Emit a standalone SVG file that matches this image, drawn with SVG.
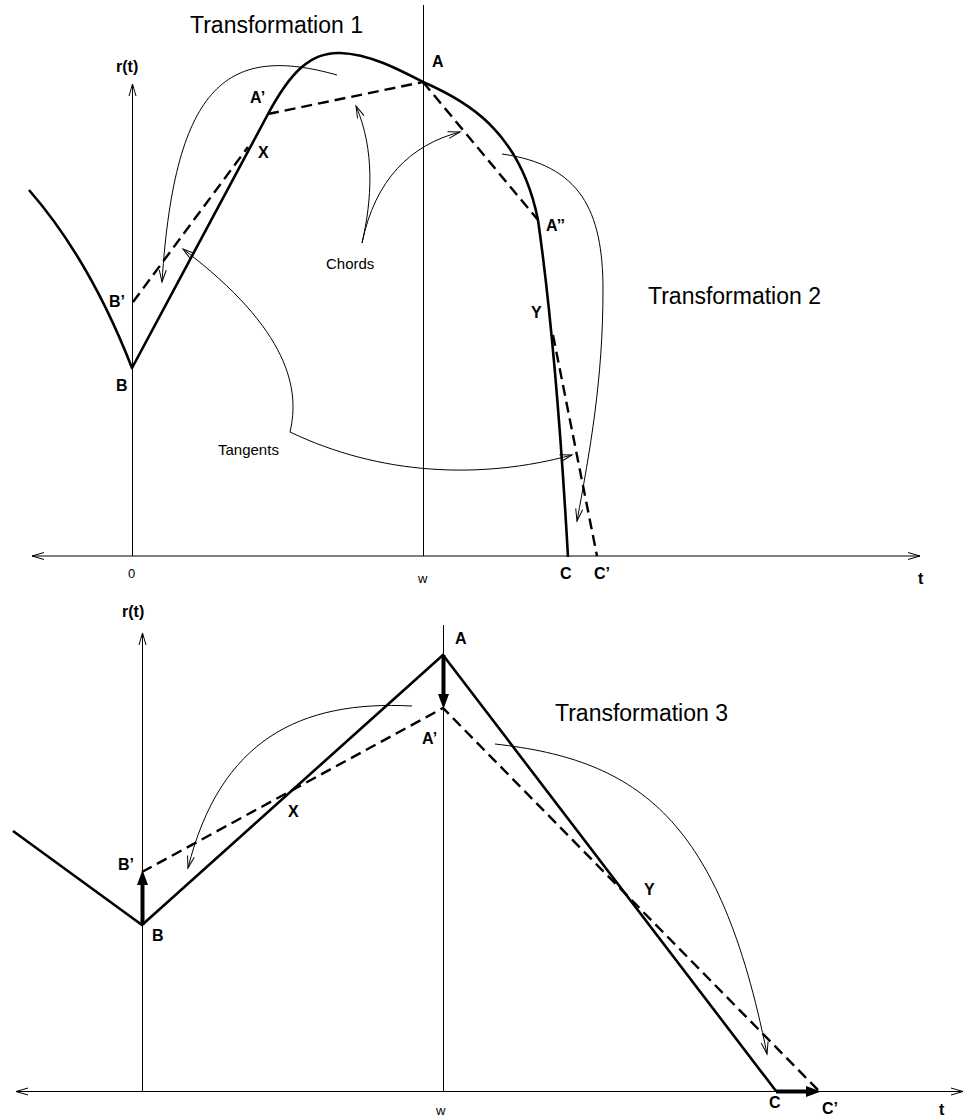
<svg xmlns="http://www.w3.org/2000/svg" width="964" height="1120" viewBox="0 0 964 1120">
<style>
.bg{fill:#fff}
.thin{fill:none;stroke:#000;stroke-width:1}
.thick{fill:none;stroke:#000;stroke-width:2.6;stroke-linejoin:round}
.dash{fill:none;stroke:#000;stroke-width:2.4;stroke-dasharray:11,6}
.vec{fill:none;stroke:#000;stroke-width:4}
.lbl{font-family:"Liberation Sans",Arial,sans-serif;font-weight:bold;font-size:16px;fill:#000}
.title{font-family:"Liberation Sans",Arial,sans-serif;font-size:23px;fill:#000}
.note{font-family:"Liberation Sans",Arial,sans-serif;font-size:15px;fill:#000}
.tick{font-family:"Liberation Sans",Arial,sans-serif;font-size:13px;fill:#000}
</style>
<defs>
<marker id="open" markerUnits="userSpaceOnUse" markerWidth="16" markerHeight="10" refX="12" refY="4" orient="auto-start-reverse" overflow="visible">
<path d="M0,0.5 L12,4 L0,7.5" fill="none" stroke="#000" stroke-width="1"/>
</marker>
<marker id="solid" markerUnits="userSpaceOnUse" markerWidth="16" markerHeight="11" refX="0" refY="5.5" orient="auto" overflow="visible">
<path d="M0,0 L15,5.5 L0,11 z" fill="#000"/>
</marker>
</defs>
<rect class="bg" x="0" y="0" width="964" height="1120"/>

<g id="axes-top">
<line class="thin" x1="32" y1="556" x2="920" y2="556" marker-start="url(#open)" marker-end="url(#open)"/>
<line class="thin" x1="132.5" y1="556" x2="132.5" y2="84" marker-end="url(#open)"/>
<line class="thin" x1="423.5" y1="5" x2="423.5" y2="556"/>
</g>

<g id="curve-top">
<path class="thick" d="M29,190 Q90,260 132,368 L268,114 C290,73 310,52 340,53 C370,54 400,70 423,82 C465,100 520,130 538,220 C548,290 558,380 568,557"/>
</g>

<g id="chords-top">
<path class="dash" d="M133,302 L248,147"/>
<path class="dash" d="M268,114 L423,82"/>
<path class="dash" d="M423,82 L538,220"/>
<path class="dash" d="M553,335 L597,556"/>
</g>

<g id="connectors">
<path class="thin" d="M337,75 C230,45 175,80 162,282" marker-end="url(#open)"/>
<path class="thin" d="M290,432 C300,390 290,330 183,249" marker-end="url(#open)"/>
<path class="thin" d="M290,432 C380,475 480,480 572,455" marker-end="url(#open)"/>
<path class="thin" d="M362,243 C372,200 375,150 356,106" marker-end="url(#open)"/>
<path class="thin" d="M362,243 C375,180 410,145 460,132" marker-end="url(#open)"/>
<path class="thin" d="M502,154 C580,165 603,210 603,290 C603,380 590,450 577,521" marker-end="url(#open)"/>
<path class="thin" d="M412,706 C300,700 220,740 188,868" marker-end="url(#open)"/>
<path class="thin" d="M495,744 C640,760 720,820 767,1054" marker-end="url(#open)"/>
</g>

<g id="labels-top">
<text class="title" x="190" y="33">Transformation 1</text>
<text class="title" x="648" y="304">Transformation 2</text>
<text class="lbl" x="116" y="72">r(t)</text>
<text class="lbl" x="432" y="67">A</text>
<text class="lbl" x="250" y="103">A’</text>
<text class="lbl" x="258" y="158">X</text>
<text class="lbl" x="109" y="307">B’</text>
<text class="lbl" x="116" y="391">B</text>
<text class="lbl" x="546" y="231">A’’</text>
<text class="lbl" x="531" y="318">Y</text>
<text class="lbl" x="560" y="579">C</text>
<text class="lbl" x="594" y="579">C’</text>
<text class="lbl" x="918" y="584">t</text>
<text class="tick" x="128" y="578">0</text>
<text class="tick" x="418" y="583">w</text>
<text class="note" x="326" y="269">Chords</text>
<text class="note" x="218" y="455">Tangents</text>
</g>

<g id="axes-bottom">
<line class="thin" x1="16" y1="1091.5" x2="963" y2="1091.5" marker-start="url(#open)" marker-end="url(#open)"/>
<line class="thin" x1="142.5" y1="1091" x2="142.5" y2="633" marker-end="url(#open)"/>
<line class="thin" x1="443.5" y1="625" x2="443.5" y2="1091"/>
</g>

<g id="curve-bottom">
<path class="thick" d="M13,831 L142,925 L443,655 L776,1091"/>
<path class="dash" d="M142,872 L443,708 L819,1091"/>
</g>

<g id="shifts-bottom">
<line class="vec" x1="142.5" y1="925" x2="142.5" y2="885" marker-end="url(#solid)"/>
<line class="vec" x1="443.5" y1="655" x2="443.5" y2="694" marker-end="url(#solid)"/>
<line class="vec" x1="776" y1="1091.5" x2="806" y2="1091.5" marker-end="url(#solid)"/>
</g>

<g id="labels-bottom">
<text class="title" x="555" y="721">Transformation 3</text>
<text class="lbl" x="122" y="617">r(t)</text>
<text class="lbl" x="455" y="644">A</text>
<text class="lbl" x="422" y="744">A’</text>
<text class="lbl" x="288" y="817">X</text>
<text class="lbl" x="118" y="870">B’</text>
<text class="lbl" x="152" y="941">B</text>
<text class="lbl" x="644" y="895">Y</text>
<text class="lbl" x="769" y="1108">C</text>
<text class="lbl" x="822" y="1114">C’</text>
<text class="lbl" x="939" y="1115">t</text>
<text class="tick" x="436" y="1115">w</text>
</g>
</svg>
